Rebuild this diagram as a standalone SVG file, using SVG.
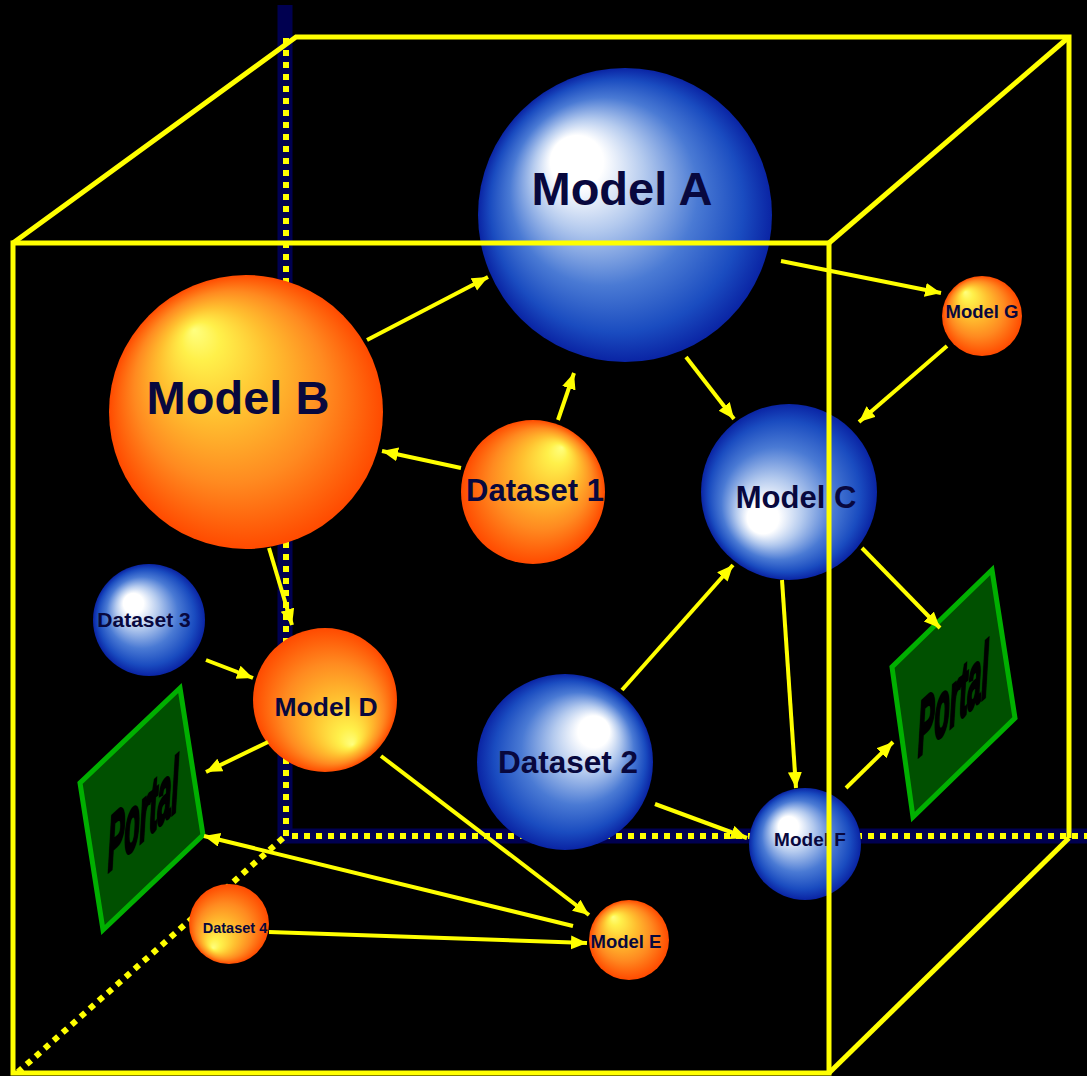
<svg xmlns="http://www.w3.org/2000/svg" width="1087" height="1076" viewBox="0 0 1087 1076">
<style>
.edge{fill:none;stroke:#ffff00;stroke-width:5}
.bar{fill:none;stroke:#000050;stroke-width:15}
.dots{fill:none;stroke:#ffff00;stroke-width:6;stroke-dasharray:6 6}
.arr{fill:none;stroke:#ffff00;stroke-width:4;marker-end:url(#ah)}
.lbl{font-family:"Liberation Sans",Arial,sans-serif;font-weight:bold;fill:#08083e;text-anchor:middle}
.portal{fill:#005000;stroke:#00b000;stroke-width:5;stroke-linejoin:miter}
.ptxt{font-family:"Liberation Sans",Arial,sans-serif;font-weight:bold;font-style:italic;font-size:31px;fill:#000;stroke:#000;stroke-width:1.6}
</style>
<defs>
<radialGradient id="og" cx="0.5" cy="0.5" r="0.5">
<stop offset="0" stop-color="#ffff80"/>
<stop offset="0.14" stop-color="#fff04a"/>
<stop offset="0.4" stop-color="#ffc030"/>
<stop offset="0.7" stop-color="#ff8a20"/>
<stop offset="1" stop-color="#ff4a00"/>
</radialGradient>
<radialGradient id="bg" cx="0.5" cy="0.5" r="0.5">
<stop offset="0" stop-color="#ffffff"/>
<stop offset="0.18" stop-color="#ffffff"/>
<stop offset="0.38" stop-color="#b4caee"/>
<stop offset="0.64" stop-color="#4a7ad4"/>
<stop offset="0.86" stop-color="#1a4cc0"/>
<stop offset="1" stop-color="#0a24a4"/>
</radialGradient>
<radialGradient id="gA" href="#bg" fx="0.30" fy="0.28"/>
<radialGradient id="gB" href="#og" fx="0.31" fy="0.20"/>
<radialGradient id="gD1" href="#og" fx="0.70" fy="0.19"/>
<radialGradient id="gC" href="#bg" fx="0.32" fy="0.68"/>
<radialGradient id="gG" href="#og" fx="0.29" fy="0.20"/>
<radialGradient id="gD3" href="#bg" fx="0.33" fy="0.32"/>
<radialGradient id="gD" href="#og" fx="0.69" fy="0.81"/>
<radialGradient id="gD2" href="#bg" fx="0.70" fy="0.29"/>
<radialGradient id="gF" href="#bg" fx="0.32" fy="0.31"/>
<radialGradient id="gD4" href="#og" fx="0.30" fy="0.80"/>
<radialGradient id="gE" href="#og" fx="0.30" fy="0.21"/>
<marker id="ah" markerUnits="userSpaceOnUse" markerWidth="18" markerHeight="16" refX="16" refY="7" orient="auto">
<path d="M0,0 L16,7 L0,14 z" fill="#ffff00"/>
</marker>
</defs>
<rect width="1087" height="1076" fill="#000"/>

<g id="cube-back">
<path class="bar" d="M285,5 V836 H1087"/>
<path class="dots" d="M286,38 V836"/>
<path class="dots" d="M292,836 H1087"/>
<path class="dots" d="M283,838 L18,1072"/>
<path class="edge" d="M13,243 L296,37 H1069 V838"/>
<path class="edge" d="M829,243 L1069,37"/>
<path class="edge" d="M829,1073 L1069,838"/>
</g>

<g id="modelA"><circle cx="625" cy="215" r="147" fill="url(#gA)"/><text class="lbl" x="622" y="205" font-size="47">Model A</text></g>
<g id="modelB"><circle cx="246" cy="412" r="137" fill="url(#gB)"/><text class="lbl" x="238" y="414" font-size="47">Model B</text></g>
<g id="dataset1"><circle cx="533" cy="492" r="72" fill="url(#gD1)"/><text class="lbl" x="535" y="501" font-size="31">Dataset 1</text></g>
<g id="modelC"><circle cx="789" cy="492" r="88" fill="url(#gC)"/><text class="lbl" x="796" y="508" font-size="31">Model C</text></g>
<g id="modelG"><circle cx="982" cy="316" r="40" fill="url(#gG)"/><text class="lbl" x="982" y="318" font-size="18.5">Model G</text></g>
<g id="dataset3"><circle cx="149" cy="620" r="56" fill="url(#gD3)"/><text class="lbl" x="144" y="627" font-size="21">Dataset 3</text></g>
<g id="modelD"><circle cx="325" cy="700" r="72" fill="url(#gD)"/><text class="lbl" x="326" y="716" font-size="26.5">Model D</text></g>
<g id="dataset2"><circle cx="565" cy="762" r="88" fill="url(#gD2)"/><text class="lbl" x="568" y="773" font-size="31.5">Dataset 2</text></g>
<g id="modelF"><circle cx="805" cy="844" r="56" fill="url(#gF)"/><text class="lbl" x="810" y="846" font-size="19">Model F</text></g>
<g id="dataset4"><circle cx="229" cy="924" r="40" fill="url(#gD4)"/><text class="lbl" x="235" y="933" font-size="14.5">Dataset 4</text></g>
<g id="modelE"><circle cx="629" cy="940" r="40" fill="url(#gE)"/><text class="lbl" x="626" y="948" font-size="18.5">Model E</text></g>

<g id="portal-left">
<path class="portal" d="M180,688 L203,835 L103,930 L80,783 Z"/>
<text class="ptxt" transform="translate(108,872) skewY(-42) scale(0.8,2.45)">Portal</text>
</g>
<g id="portal-right">
<path class="portal" d="M992,570 L1015,718 L913,817 L892,667 Z"/>
<text class="ptxt" transform="translate(918,757) skewY(-42) scale(0.8,2.45)">Portal</text>
</g>

<g id="cube-front">
<rect class="edge" x="13" y="243" width="816" height="830"/>
</g>

<g id="connectors">
<line class="arr" x1="367" y1="340" x2="488" y2="277"/>
<line class="arr" x1="558" y1="420" x2="574" y2="373"/>
<line class="arr" x1="461" y1="468" x2="382" y2="451"/>
<line class="arr" x1="686" y1="357" x2="734" y2="419"/>
<line class="arr" x1="781" y1="261" x2="941" y2="293"/>
<line class="arr" x1="947" y1="346" x2="859" y2="422"/>
<line class="arr" x1="622" y1="690" x2="733" y2="565"/>
<line class="arr" x1="782" y1="580" x2="796" y2="788"/>
<line class="arr" x1="862" y1="548" x2="940" y2="628"/>
<line class="arr" x1="846" y1="788" x2="893" y2="742"/>
<line class="arr" x1="655" y1="804" x2="747" y2="838"/>
<line class="arr" x1="269" y1="548" x2="292" y2="625"/>
<line class="arr" x1="206" y1="660" x2="253" y2="678"/>
<line class="arr" x1="268" y1="742" x2="206" y2="772"/>
<line class="arr" x1="381" y1="756" x2="589" y2="915"/>
<line class="arr" x1="573" y1="926" x2="204" y2="836"/>
<line class="arr" x1="269" y1="932" x2="587" y2="943"/>
</g>
</svg>
